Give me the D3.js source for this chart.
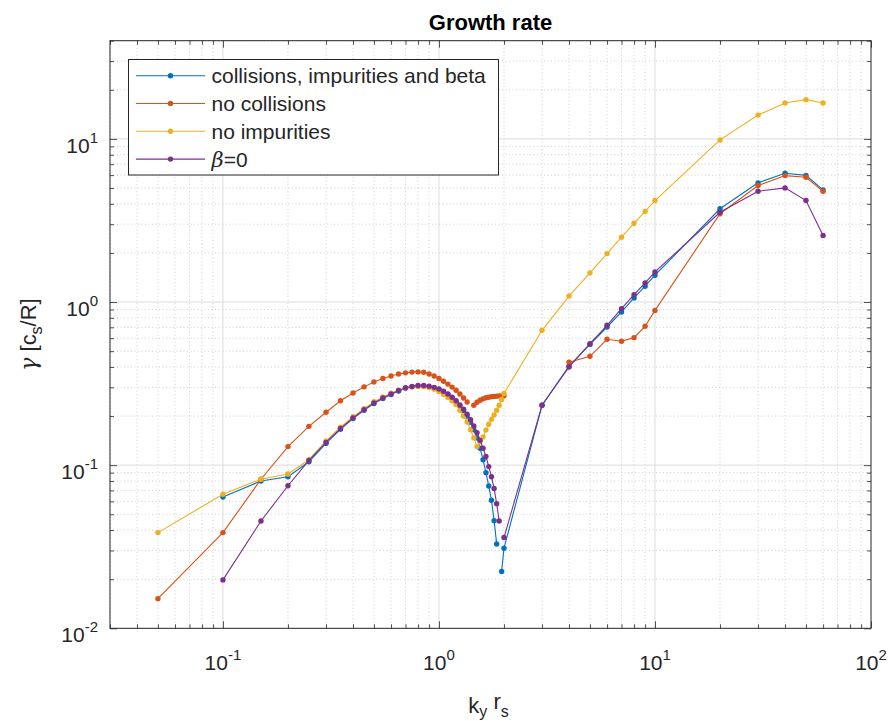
<!DOCTYPE html>
<html>
<head>
<meta charset="utf-8">
<script src="https://cdn.jsdelivr.net/npm/d3@7"></script>
<style>
  body { margin: 0; background: #fff; }
  svg { font-family: "Liberation Sans", Arial, Helvetica, sans-serif; }
</style>
</head>
<body>
<div id="chart"></div>
<script>
// k_y r_s sample points
const ky = [0.05, 0.1, 0.15, 0.2, 0.25, 0.3, 0.35, 0.4, 0.45, 0.5,
    0.55, 0.6, 0.65, 0.7, 0.75, 0.8, 0.85, 0.9, 0.95, 1.0,
    1.05, 1.1, 1.15, 1.2, 1.25, 1.3, 1.35, 1.4, 1.45, 1.5,
    1.55, 1.6, 1.65, 1.7, 1.75, 1.8, 1.85, 1.9, 1.95, 2.0,
    3, 4, 5, 6, 7, 8, 9, 10, 20, 30, 40, 50, 60];

// growth rates, null = no point
const gammaFull = [null, 0.0638, 0.080, 0.085, 0.105, 0.136, 0.166, 0.193, 0.217, 0.239,
    0.256, 0.271, 0.285, 0.296, 0.302, 0.306, 0.306, 0.303, 0.298, 0.291,
    0.282, 0.271, 0.259, 0.245, 0.231, 0.216, 0.200, 0.183, 0.165, 0.147,
    0.127, 0.108, 0.090, 0.0745, 0.061, 0.0457, 0.0329, null, 0.0223, 0.031,
    0.233, 0.405, 0.550, 0.703, 0.869, 1.06, 1.25, 1.46, 3.73, 5.38, 6.16, 5.98, 4.87];

const gammaNoColl = [0.0152, 0.0386, 0.082, 0.130, 0.173, 0.211, 0.248, 0.277, 0.302, 0.324,
    0.340, 0.352, 0.362, 0.368, 0.372, 0.373, 0.371, 0.362, 0.352, 0.340,
    0.327, 0.314, 0.301, 0.288, 0.273, 0.258, 0.244, null, 0.233, 0.243,
    0.250, 0.255, 0.259, 0.261, 0.263, 0.264, 0.265, 0.266, 0.266, 0.266,
    null, 0.428, 0.465, 0.591, 0.575, 0.605, 0.710, 0.889, 3.48, 5.18, 5.96, 5.82, 4.78];

const gammaNoImp = [0.0386, 0.0663, 0.082, 0.0882, 0.108, 0.141, 0.171, 0.198, 0.222, 0.245,
    0.262, 0.276, 0.288, 0.297, 0.302, 0.304, 0.303, 0.299, 0.292, 0.283,
    0.272, 0.260, 0.248, 0.235, 0.217, 0.200, 0.184, 0.165, 0.147, 0.130,
    0.139, 0.149, 0.164, 0.178, 0.191, 0.203, 0.217, 0.233, 0.253, 0.275,
    0.671, 1.088, 1.51, 1.98, 2.50, 3.04, 3.59, 4.19, 9.86, 14.0, 16.6, 17.4, 16.6];

const gammaBeta0 = [null, 0.0198, 0.0455, 0.0748, 0.107, 0.138, 0.168, 0.195, 0.219, 0.241,
    0.258, 0.273, 0.287, 0.298, 0.304, 0.308, 0.308, 0.305, 0.300, 0.293,
    0.284, 0.273, 0.261, 0.248, 0.234, 0.220, 0.205, 0.190, 0.174, 0.158,
    0.142, 0.127, 0.113, 0.098, 0.085, 0.072, 0.058, 0.0455, null, 0.036,
    0.233, 0.400, 0.556, 0.720, 0.911, 1.11, 1.31, 1.53, 3.55, 4.78, 5.01, 4.19, 2.56];

const seriesNames = ['collisions, impurities and beta', 'no collisions', 'no impurities', 'β=0'];
const seriesColors = ['#0072BD', '#D95319', '#EDB120', '#7E2F8E'];
const seriesValues = [gammaFull, gammaNoColl, gammaNoImp, gammaBeta0];

const xDecades = [0.1, 1, 10, 100];
const yDecades = [0.01, 0.1, 1, 10];

const W = 894, H = 721;
const pLeft = 110, pRight = 871, pTop = 40.7, pBottom = 628.3;

const svg = d3.select('#chart').append('svg')
    .attr('width', W)
    .attr('height', H);

const x = d3.scaleLog().domain([0.03, 100]).range([pLeft, pRight]);
const y = d3.scaleLog().domain([0.01, 40]).range([pBottom, pTop]);

// minor tick positions inside the domain
function minorTicks(scale) {
    const [a, b] = scale.domain();
    const out = [];
    for (let e = Math.floor(Math.log10(a)); e <= Math.ceil(Math.log10(b)); e++) {
        for (let m = 2; m <= 9; m++) {
            const v = m * Math.pow(10, e);
            if (v >= a && v <= b) out.push(v);
        }
    }
    return out;
}
const xMinor = minorTicks(x);
const yMinor = minorTicks(y);

// grid
const grid = svg.append('g');
grid.selectAll('.xmg').data(xMinor).enter().append('line')
    .attr('x1', d => x(d)).attr('x2', d => x(d))
    .attr('y1', pTop).attr('y2', pBottom)
    .attr('stroke', '#c4c4c4').attr('stroke-width', 0.8)
    .attr('stroke-dasharray', '1,2.5');
grid.selectAll('.ymg').data(yMinor).enter().append('line')
    .attr('y1', d => y(d)).attr('y2', d => y(d))
    .attr('x1', pLeft).attr('x2', pRight)
    .attr('stroke', '#c4c4c4').attr('stroke-width', 0.8)
    .attr('stroke-dasharray', '1,2.5');
grid.selectAll('.xg').data(xDecades.filter(d => d < 100)).enter().append('line')
    .attr('x1', d => x(d)).attr('x2', d => x(d))
    .attr('y1', pTop).attr('y2', pBottom)
    .attr('stroke', '#dcdcdc').attr('stroke-width', 1);
grid.selectAll('.yg').data(yDecades.filter(d => d > 0.01)).enter().append('line')
    .attr('y1', d => y(d)).attr('y2', d => y(d))
    .attr('x1', pLeft).attr('x2', pRight)
    .attr('stroke', '#dcdcdc').attr('stroke-width', 1);

// axes with inward ticks, on all four sides
function drawAxis(gen, transform, values, size) {
    const g = svg.append('g').attr('transform', transform)
        .call(gen.tickValues(values).tickSize(size).tickFormat(''));
    g.select('.domain').remove();
    g.selectAll('line').attr('stroke', '#262626').attr('stroke-width', 0.8);
}
drawAxis(d3.axisBottom(x), `translate(0,${pBottom})`, xDecades, -7);
drawAxis(d3.axisBottom(x), `translate(0,${pBottom})`, xMinor, -4);
drawAxis(d3.axisTop(x), `translate(0,${pTop})`, xDecades, -7);
drawAxis(d3.axisTop(x), `translate(0,${pTop})`, xMinor, -4);
drawAxis(d3.axisLeft(y), `translate(${pLeft},0)`, yDecades, -7);
drawAxis(d3.axisLeft(y), `translate(${pLeft},0)`, yMinor, -4);
drawAxis(d3.axisRight(y), `translate(${pRight},0)`, yDecades, -7);
drawAxis(d3.axisRight(y), `translate(${pRight},0)`, yMinor, -4);

svg.append('rect')
    .attr('x', pLeft).attr('y', pTop)
    .attr('width', pRight - pLeft).attr('height', pBottom - pTop)
    .attr('fill', 'none').attr('stroke', '#262626').attr('stroke-width', 1);

// tick labels 10^n
xDecades.forEach(d => {
    const t = svg.append('text')
        .attr('x', x(d)).attr('y', pBottom + 42)
        .attr('text-anchor', 'middle')
        .attr('fill', '#262626')
        .style('font-size', '21px');
    t.append('tspan').text('10');
    t.append('tspan').attr('dy', -10).style('font-size', '15px').text(Math.round(Math.log10(d)));
});
yDecades.forEach(d => {
    const t = svg.append('text')
        .attr('x', pLeft - 12).attr('y', y(d) + 14)
        .attr('text-anchor', 'end')
        .attr('fill', '#262626')
        .style('font-size', '21px');
    t.append('tspan').text('10');
    t.append('tspan').attr('dy', -10).style('font-size', '15px').text(Math.round(Math.log10(d)));
});

// title and axis labels
svg.append('text')
    .attr('x', (pLeft + pRight) / 2).attr('y', 30)
    .attr('text-anchor', 'middle')
    .attr('fill', '#000')
    .style('font-size', '22px').style('font-weight', 'bold')
    .text('Growth rate');

const xl = svg.append('text')
    .attr('x', (pLeft + pRight) / 2 - 2).attr('y', 713)
    .attr('text-anchor', 'middle')
    .attr('fill', '#262626')
    .style('font-size', '22px');
xl.append('tspan').text('k');
xl.append('tspan').attr('dy', 4).style('font-size', '16px').text('y');
xl.append('tspan').attr('dy', -8).text(' r');
xl.append('tspan').attr('dy', 8).style('font-size', '16px').text('s');

const yl = svg.append('text')
    .attr('transform', `translate(36,${(pTop + pBottom) / 2}) rotate(-90)`)
    .attr('text-anchor', 'middle')
    .attr('fill', '#262626')
    .style('font-size', '22px');
yl.append('tspan').style('font-family', '"DejaVu Serif", serif').style('font-style', 'italic').text('γ');
yl.append('tspan').text(' [c');
yl.append('tspan').attr('dy', 6).style('font-size', '16px').text('s');
yl.append('tspan').attr('dy', -6).text('/R]');

// series
const plot = svg.append('g');
seriesValues.forEach((vals, i) => {
    const pts = ky.map((k, j) => ({ k: k, g: vals[j] }));
    const line = d3.line()
        .defined(d => d.g !== null)
        .x(d => x(d.k))
        .y(d => y(d.g));
    plot.append('path')
        .datum(pts)
        .attr('d', line)
        .attr('fill', 'none')
        .attr('stroke', seriesColors[i])
        .attr('stroke-width', 1.1);
    plot.selectAll(null)
        .data(pts.filter(d => d.g !== null))
        .enter().append('circle')
        .attr('cx', d => x(d.k))
        .attr('cy', d => y(d.g))
        .attr('r', 2.7)
        .attr('fill', seriesColors[i]);
});

// legend
const lg = svg.append('g');
lg.append('rect')
    .attr('x', 128.5).attr('y', 59.5)
    .attr('width', 370).attr('height', 115.5)
    .attr('fill', '#fff').attr('stroke', '#262626').attr('stroke-width', 1);
seriesNames.forEach((name, i) => {
    const ly = 75.7 + i * 27.8;
    lg.append('line')
        .attr('x1', 136).attr('x2', 205)
        .attr('y1', ly).attr('y2', ly)
        .attr('stroke', seriesColors[i]).attr('stroke-width', 1.1);
    lg.append('circle')
        .attr('cx', 170.5).attr('cy', ly).attr('r', 2.7)
        .attr('fill', seriesColors[i]);
    const t = lg.append('text')
        .attr('x', 211.5).attr('y', ly + 7.5)
        .attr('fill', '#262626')
        .style('font-size', '21px');
    if (name.startsWith('β')) {
        t.append('tspan').style('font-family', '"DejaVu Serif", serif').style('font-style', 'italic').text('β');
        t.append('tspan').text('=0');
    } else {
        t.text(name);
    }
});
</script>
</body>
</html>
